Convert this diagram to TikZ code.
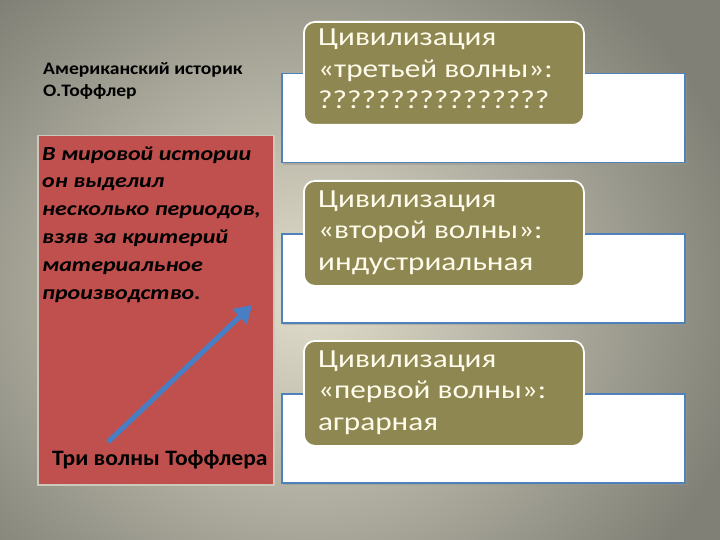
\documentclass[tikz,border=0pt]{standalone}
\usepackage{fontspec}
\setmainfont{Carlito}
\newfontfamily\ofont[FakeStretch=1.2]{Carlito}
\newfontfamily\tfont[FakeStretch=1.12]{Carlito}
\newfontfamily\rfont[FakeStretch=1.2]{Carlito}
\newfontfamily\wfont[FakeStretch=1.07]{Carlito}
\usetikzlibrary{arrows.meta}
\definecolor{bgin}{RGB}{226,222,204}
\definecolor{bgout}{RGB}{128,128,118}
\definecolor{redbox}{RGB}{192,80,77}
\definecolor{olive}{RGB}{143,135,82}
\definecolor{cream}{RGB}{255,252,236}
\definecolor{bluel}{RGB}{79,129,189}
\definecolor{arrowblue}{RGB}{72,126,196}
\definecolor{shadowc}{RGB}{150,150,140}
\tikzset{
  wbox/.style={draw=bluel, line width=1.5pt, fill=white, anchor=north west, minimum width=403, minimum height=89, inner sep=0pt},
  wshadow/.style={fill=shadowc, opacity=0.5},
  obox/.style={draw=white, line width=1.8pt, fill=olive, rounded corners=11pt, anchor=north west, minimum width=280, inner sep=0pt},
  otext/.style={anchor=base west, align=left, text=cream, font=\ofont\fontsize{26}{31.5}\selectfont, inner sep=0pt},
}
\begin{document}
\begin{tikzpicture}[x=1pt,y=-1pt]
\useasboundingbox (0,0) rectangle (720,540);
% background
\shade[inner color=bgin, outer color=bgout] (-140,-110) rectangle (760,700);
% left title (base anchor = baseline of last line)
\node[anchor=base west, align=left, inner sep=0pt, font=\tfont\bfseries\fontsize{17.5}{22}\selectfont] (title) at (43,97) {Американский историк\\О.Тоффлер};
% red box
\node[draw={rgb,255:red,205;green,200;blue,188}, line width=1.5pt, fill=redbox, minimum width=236, minimum height=349, anchor=north west, inner sep=0pt] (red) at (37,135) {};
\node[anchor=base west, align=left, inner sep=0pt, font=\rfont\bfseries\itshape\fontsize{20}{27.8}\selectfont] (desc) at (42,299) {В мировой истории\\он выделил\\несколько периодов,\\взяв за критерий\\материальное\\производство.};
\coordinate (a0) at (108,442);
\coordinate (a1) at (252,305);
\draw[arrowblue, line width=5pt, -{Triangle[length=17pt,width=20pt]}] (a0) -- (a1);
\node[anchor=base west, inner sep=0pt, font=\wfont\bfseries\fontsize{22}{24}\selectfont] (three) at (52,465) {Три волны Тоффлера};
% white boxes with soft shadow
\foreach \y in {73,233,393}{\fill[wshadow] (283,\y+3) rectangle (687,\y+92);}
\node[wbox] (w1) at (281,73) {};
\node[wbox] (w2) at (281,233) {};
\node[wbox] (w3) at (281,393) {};
% olive boxes
\node[obox, minimum height=103] (o1) at (303,21) {};
\node[obox, minimum height=105] (o2) at (303,180) {};
\node[obox, minimum height=105] (o3) at (303,340) {};
\node[otext] (t1) at (318,109) {Цивилизация\\«третьей волны»:\\????????????????};
\node[otext] (t2) at (318,270) {Цивилизация\\«второй волны»:\\индустриальная};
\node[otext] (t3) at (318,430) {Цивилизация\\«первой волны»:\\аграрная};
\end{tikzpicture}
\end{document}
